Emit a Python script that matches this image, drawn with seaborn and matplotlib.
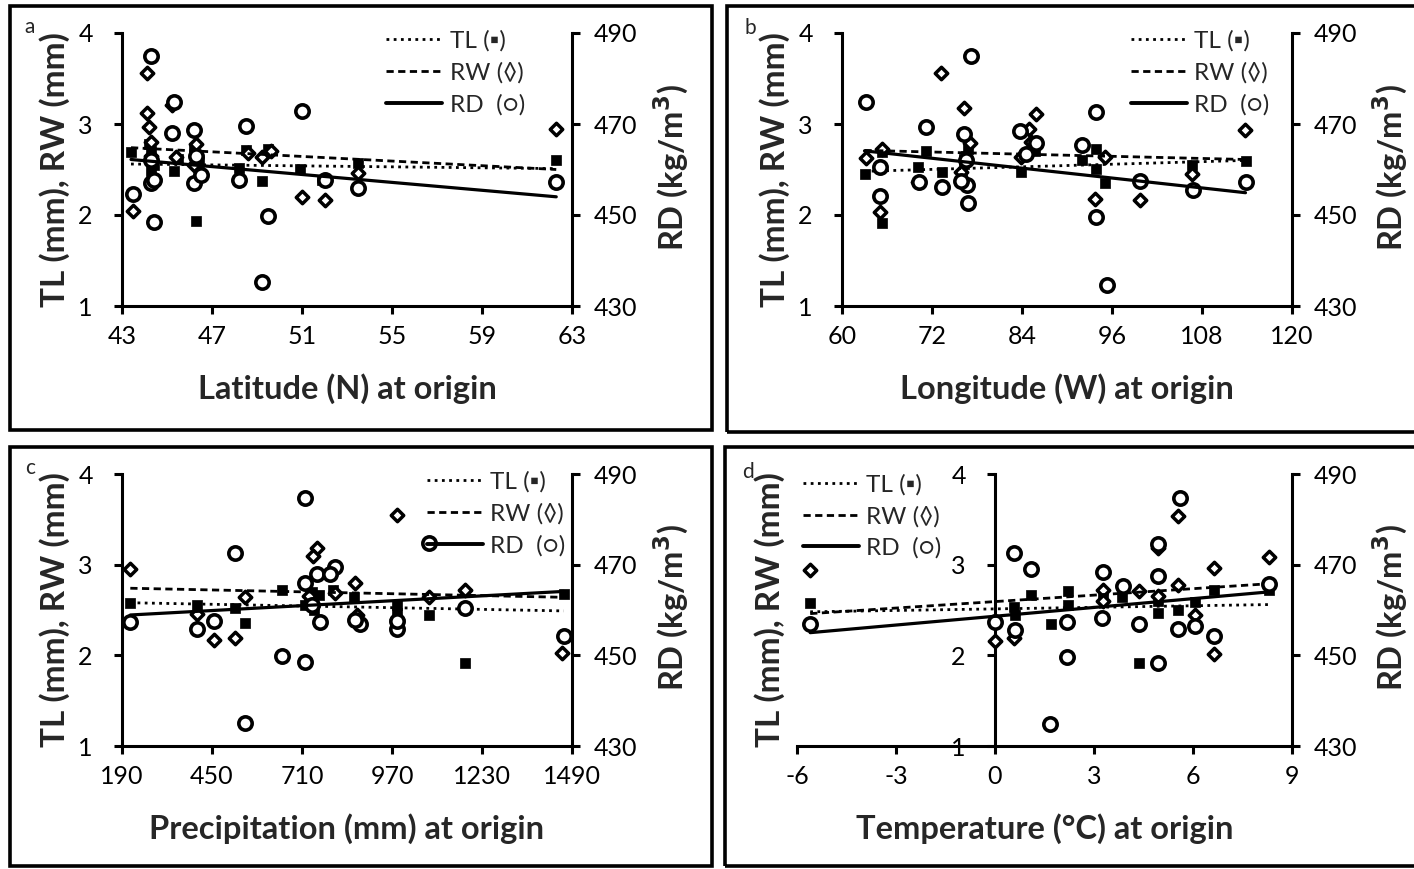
import matplotlib
matplotlib.use("Agg")
import matplotlib.pyplot as plt
import seaborn as sns
import numpy as np
import pandas as pd
from matplotlib.lines import Line2D
from matplotlib.patches import Rectangle

sns.set_theme(style="ticks")
plt.rcParams['font.family'] = ['Lato', 'DejaVu Sans']
plt.rcParams['axes.linewidth'] = 2.2

# ---------------- data ----------------
# Panel a: latitude
lat_tl_x = [43.4, 44.2, 44.3, 44.3, 44.4, 44.3, 45.3, 45.5, 46.2, 46.3, 46.4, 46.3, 48.2, 48.5, 49.2, 49.5, 50.9, 51.9, 53.5, 62.3]
lat_tl_y = [2.69, 2.78, 2.70, 2.62, 2.55, 2.48, 2.48, 2.62, 2.72, 2.65, 2.58, 1.93, 2.52, 2.71, 2.37, 2.73, 2.51, 2.39, 2.57, 2.60]
lat_rw_x = [43.5, 44.1, 44.1, 44.2, 44.3, 44.3, 44.4, 45.2, 45.4, 46.3, 46.2, 46.5, 48.2, 48.6, 49.2, 49.6, 51.0, 52.0, 53.5, 62.3]
lat_rw_y = [2.04, 3.56, 3.12, 2.97, 2.80, 2.65, 2.40, 3.21, 2.64, 2.78, 2.55, 2.45, 2.39, 2.68, 2.64, 2.70, 2.20, 2.16, 2.46, 2.95]
lat_rd_x = [43.5, 44.3, 44.3, 44.4, 44.4, 44.3, 45.3, 45.2, 46.2, 46.2, 46.5, 46.3, 48.2, 48.5, 49.2, 49.5, 51.0, 52.0, 53.5, 62.3]
lat_rd_y = [454.6, 485.0, 457.0, 457.8, 448.5, 462.0, 474.9, 468.0, 468.7, 457.1, 458.8, 463.0, 457.7, 469.6, 435.2, 449.8, 472.9, 457.7, 455.9, 457.3]
lat_trend_x = [43.4, 62.3]
lat_trend_tl = [2.56, 2.51]
lat_trend_rw = [2.74, 2.50]
lat_trend_rd = [462.2, 454.0]

# Panel b: longitude
lon_tl_x = [63.0, 65.3, 65.3, 70.1, 71.2, 73.3, 76.2, 76.5, 76.8, 76.0, 83.8, 85.7, 92.0, 93.9, 93.8, 95.1, 99.7, 106.6, 113.8, 76.3]
lon_tl_y = [2.45, 1.91, 2.69, 2.53, 2.70, 2.47, 2.56, 2.65, 2.72, 2.45, 2.47, 2.70, 2.60, 2.73, 2.51, 2.35, 2.39, 2.55, 2.59, 2.62]
lon_rw_x = [63.2, 65.0, 65.3, 70.1, 73.2, 76.3, 77.1, 75.8, 76.5, 83.8, 84.9, 85.8, 85.2, 93.7, 95.1, 99.7, 106.6, 113.7]
lon_rw_y = [2.63, 2.03, 2.72, 2.36, 3.56, 3.18, 2.79, 2.47, 2.60, 2.64, 2.95, 3.11, 2.80, 2.18, 2.64, 2.16, 2.45, 2.93]
lon_rd_x = [63.2, 65.1, 65.0, 71.2, 70.2, 73.3, 77.2, 76.3, 76.8, 76.7, 75.8, 76.5, 83.7, 85.9, 84.5, 92.0, 93.8, 93.9, 95.3, 99.7, 106.8, 113.8]
lon_rd_y = [474.9, 460.6, 454.1, 469.4, 457.3, 456.2, 485.0, 467.8, 452.7, 456.5, 457.4, 462.0, 468.5, 465.8, 463.5, 465.4, 472.7, 449.6, 434.7, 457.5, 455.5, 457.3]
lon_trend_x = [63.0, 113.8]
lon_trend_tl = [2.48, 2.60]
lon_trend_rw = [2.71, 2.61]
lon_trend_rd = [464.1, 454.9]

# Panel c: precipitation
pre_tl_x = [214, 407, 515, 544, 652, 719, 730, 745, 760, 800, 860, 984, 984, 1076, 1182, 1466, 740]
pre_tl_y = [2.58, 2.56, 2.52, 2.36, 2.72, 2.56, 2.62, 2.50, 2.66, 2.72, 2.64, 2.47, 2.55, 2.45, 1.92, 2.68, 2.70]
pre_rw_x = [214, 407, 455, 515, 544, 753, 743, 864, 869, 984, 1076, 1182, 1461, 806, 730, 984]
pre_rw_y = [2.95, 2.46, 2.17, 2.19, 2.64, 3.18, 3.10, 2.80, 2.44, 3.55, 2.64, 2.72, 2.03, 2.69, 2.65, 2.40]
pre_rd_x = [719, 515, 1076, 214, 407, 455, 652, 719, 544, 763, 753, 806, 791, 878, 864, 984, 984, 1182, 1466, 719, 740]
pre_rd_y = [484.7, 472.6, 474.8, 457.3, 455.8, 457.6, 449.8, 448.5, 435.0, 457.3, 468.0, 469.5, 468.0, 456.9, 457.9, 455.9, 457.5, 460.5, 454.3, 466.0, 461.0]
pre_trend_x = [214, 1466]
pre_trend_tl = [2.58, 2.49]
pre_trend_rw = [2.74, 2.64]
pre_trend_rd = [458.9, 464.1]

# Panel d: temperature
tmp_tl_x = [-5.6, 0.59, 1.1, 1.7, 2.2, 3.26, 3.85, 4.37, 4.95, 4.95, 5.55, 6.06, 6.65, 8.31, 0.6, 2.2]
tmp_tl_y = [2.58, 2.53, 2.67, 2.35, 2.71, 2.69, 2.64, 1.91, 2.47, 2.60, 2.50, 2.59, 2.72, 2.72, 2.45, 2.55]
tmp_rw_x = [-5.6, 0.0, 0.59, 3.26, 4.37, 4.95, 5.55, 5.55, 6.06, 6.65, 6.65, 8.31, 4.95, 3.26]
tmp_rw_y = [2.94, 2.16, 2.19, 2.72, 2.71, 3.18, 3.54, 2.78, 2.45, 2.96, 2.02, 3.09, 2.65, 2.60]
tmp_rd_x = [-5.6, 0.59, 1.08, 0.6, 1.67, 2.17, 2.17, 3.26, 3.23, 3.87, 4.37, 4.95, 4.95, 4.95, 5.6, 5.55, 6.06, 6.65, 8.31, 0.0]
tmp_rd_y = [457.0, 472.6, 469.1, 455.6, 434.9, 449.6, 457.3, 468.3, 458.2, 465.4, 457.0, 474.6, 467.6, 448.2, 484.7, 455.9, 456.4, 454.2, 465.8, 457.4]
tmp_trend_x = [-5.6, 8.31]
tmp_trend_tl = [2.48, 2.56]
tmp_trend_rw = [2.46, 2.79]
tmp_trend_rd = [455.0, 464.0]

left_ticks = [1, 2, 3, 4]
right_ticks = [430, 450, 470, 490]
legend_labels = ["TL (\u25aa)", "RW (\u25ca)", "RD  (\u25cb)"]

# ---------------- layout ----------------
W, H = 1414, 869
fig = plt.figure(figsize=(W / 100, H / 100), dpi=100)
fig.patch.set_facecolor("white")


def rect_px(l, t, r, b):
    return [l / W, 1 - b / H, (r - l) / W, (b - t) / H]


DOT = (0, (1, 1.6))
DASH = (0, (2.6, 1.6))
TICK_FS = 18
LAB_FS = 23.5


def panel(rect, letter, letter_xy, xlabel, xlim, xticks,
          tlx, tly, rwx, rwy, rdx, rdy, trx, ttl, trw, trd,
          leg_loc, leg_anchor, ylab_x, rdlab_x, spine_at_zero=False):
    ax = fig.add_axes(rect_px(*rect))
    ax2 = ax.twinx()
    ax.set_facecolor("none")

    sns.scatterplot(x=tlx, y=tly, ax=ax, marker="s", s=62, color="black",
                    edgecolor="black", linewidth=0.5, zorder=3)
    sns.scatterplot(x=rwx, y=rwy, ax=ax, marker="D", s=40, color="white",
                    edgecolor="black", linewidth=2.5, zorder=3)
    sns.scatterplot(x=rdx, y=rdy, ax=ax2, marker="o", s=92, color="white",
                    edgecolor="black", linewidth=2.6, zorder=3)
    sns.lineplot(x=trx, y=ttl, ax=ax, color="black", lw=2.0, linestyle=DOT, zorder=4)
    sns.lineplot(x=trx, y=trw, ax=ax, color="black", lw=2.0, linestyle=DASH, zorder=4)
    sns.lineplot(x=trx, y=trd, ax=ax2, color="black", lw=2.3, linestyle="-", zorder=4)

    ax.set_xlim(*xlim)
    ax.set_xticks(xticks)
    ax.set_xticklabels([str(v) for v in xticks])
    ax.set_ylim(1, 4)
    ax.set_yticks(left_ticks)
    ax2.set_ylim(430, 490)
    ax2.set_yticks(right_ticks)

    for a in (ax, ax2):
        a.grid(False)
        a.spines["top"].set_visible(False)
        for sp in a.spines.values():
            sp.set_linewidth(2.2)
            sp.set_color("black")
    ax.spines["right"].set_visible(False)
    ax2.spines["left"].set_visible(False)
    ax2.spines["bottom"].set_visible(False)
    if spine_at_zero:
        ax.spines["left"].set_position(("data", 0))

    ax.tick_params(axis="x", direction="out", length=6, width=2.2, pad=8,
                   labelsize=TICK_FS, colors="black")
    ax.tick_params(axis="y", direction="out", length=6, width=2.2, pad=15,
                   labelsize=TICK_FS, colors="black")
    ax2.tick_params(axis="y", direction="out", length=6, width=2.2, pad=10,
                    labelsize=TICK_FS, colors="black")

    ax.set_xlabel(xlabel, fontsize=LAB_FS, fontweight="bold", labelpad=18)
    ax.set_ylabel("")
    ax2.set_ylabel("")

    cy = (rect[1] + rect[3]) / 2
    fig.text(ylab_x / W, 1 - cy / H, "TL (mm), RW (mm)", rotation=90,
             ha="center", va="center", fontsize=LAB_FS + 0.5, fontweight="bold")
    fig.text(rdlab_x / W, 1 - (cy - 2) / H, "RD (kg/m$^{\\mathbf{3}}$)", rotation=90,
             ha="center", va="center", fontsize=LAB_FS, fontweight="bold")
    fig.text(letter_xy[0] / W, 1 - letter_xy[1] / H, letter, ha="center",
             va="center", fontsize=15)

    handles = [Line2D([], [], color="black", lw=2.0, linestyle=DOT),
               Line2D([], [], color="black", lw=2.0, linestyle=DASH),
               Line2D([], [], color="black", lw=2.8, linestyle="-")]
    ax2.legend(handles, legend_labels, loc=leg_loc, bbox_to_anchor=leg_anchor,
               frameon=False, fontsize=17.5, handlelength=2.3,
               handletextpad=0.3, labelspacing=0.42, borderpad=0,
               borderaxespad=0)
    return ax, ax2


lat_ticks = [43, 47, 51, 55, 59, 63]
lon_ticks = [60, 72, 84, 96, 108, 120]
pre_ticks = [190, 450, 710, 970, 1230, 1490]
tmp_ticks = [-6, -3, 0, 3, 6, 9]

panel((122, 33, 572, 306), "a", (30, 27), "Latitude (N) at origin", (43, 63), lat_ticks,
      lat_tl_x, lat_tl_y, lat_rw_x, lat_rw_y, lat_rd_x, lat_rd_y,
      lat_trend_x, lat_trend_tl, lat_trend_rw, lat_trend_rd,
      "upper right", (0.895, 1.01), 55, 671)
panel((842, 33, 1292, 306), "b", (750, 28), "Longitude (W) at origin", (60, 120), lon_ticks,
      lon_tl_x, lon_tl_y, lon_rw_x, lon_rw_y, lon_rd_x, lon_rd_y,
      lon_trend_x, lon_trend_tl, lon_trend_rw, lon_trend_rd,
      "upper right", (0.95, 1.01), 775, 1390)
panel((122, 474, 572, 746), "c", (30, 468), "Precipitation (mm) at origin", (190, 1490), pre_ticks,
      pre_tl_x, pre_tl_y, pre_rw_x, pre_rw_y, pre_rd_x, pre_rd_y,
      pre_trend_x, pre_trend_tl, pre_trend_rw, pre_trend_rd,
      "upper right", (0.985, 1.01), 55, 671)
panel((797, 474, 1292, 746), "d", (748, 472), "Temperature (\u00b0C) at origin", (-6, 9), tmp_ticks,
      tmp_tl_x, tmp_tl_y, tmp_rw_x, tmp_rw_y, tmp_rd_x, tmp_rd_y,
      tmp_trend_x, tmp_trend_tl, tmp_trend_rw, tmp_trend_rd,
      "upper left", (0.012, 1.0), 770, 1390, spine_at_zero=True)

# panel frames
for (l, t, r, b) in [(10, 6, 712, 430), (727, 6, 1420, 432),
                     (10, 447, 712, 866), (725, 447, 1420, 866)]:
    fig.add_artist(Rectangle((l / W, 1 - b / H), (r - l) / W, (b - t) / H,
                             transform=fig.transFigure, fill=False,
                             edgecolor="black", lw=2.6))

fig.savefig("out.png", dpi=100, facecolor="white")
